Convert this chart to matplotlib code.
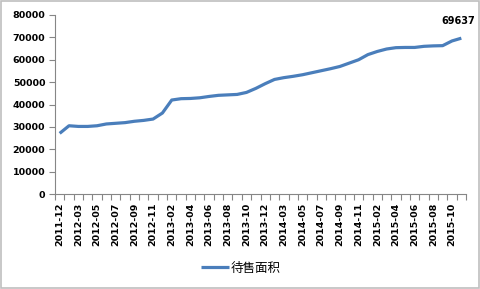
import numpy as np
import matplotlib.pyplot as plt
from matplotlib.patches import Rectangle

plt.rcParams['font.family'] = ['DejaVu Sans', 'Noto Sans CJK SC']

# -------- data --------
months = (["2011-12"]
          + ["2012-%02d" % m for m in range(2, 13)]
          + ["2013-%02d" % m for m in range(2, 13)]
          + ["2014-%02d" % m for m in range(2, 13)]
          + ["2015-%02d" % m for m in range(2, 12)])
area = [27100, 30500, 30200, 30200, 30500, 31300, 31600, 31900, 32500, 32900,
        33500, 36200, 42000, 42600, 42700, 43000, 43600, 44100, 44300, 44500,
        45400, 47200, 49300, 51200, 52000, 52600, 53300, 54200, 55100, 56000,
        57000, 58500, 60000, 62300, 63700, 64800, 65400, 65500, 65500, 66000,
        66200, 66300, 68400, 69637]
series_name = "待售面积"

line_color = "#4a7ebb"
axis_color = "#868686"

fig = plt.figure(figsize=(4.81, 2.89), dpi=100)
ax = fig.add_axes([55 / 481, 1 - 194 / 289, 411 / 481, 179 / 289])

x = np.arange(len(area))
ax.plot(x, area, color=line_color, linewidth=2.3, label=series_name,
        solid_capstyle='butt')

# label on last point
ax.annotate(f"{area[-1]}", (x[-1], area[-1]), xytext=(-2, 12.5),
            textcoords='offset points', ha='center', va='center',
            fontsize=7, fontweight='bold')

ax.set_xlim(-0.5, len(area) - 0.5)
ax.set_ylim(0, 80000)
ax.set_yticks(np.arange(0, 80001, 10000))

# category axis: labels every other month, ticks at boundaries
ax.set_xticks(x[::2])
ax.set_xticklabels(months[::2], rotation=90)
ax.set_xticks(np.arange(-0.5, len(area)), minor=True)
ax.tick_params(axis='x', which='major', length=0, pad=6)
ax.tick_params(axis='x', which='minor', length=4, color=axis_color, width=0.8)
ax.tick_params(axis='y', length=4, color=axis_color, width=0.8, pad=3)
for lab in ax.get_xticklabels() + ax.get_yticklabels():
    lab.set_fontsize(6.8)
    lab.set_fontweight('bold')

for s in ['top', 'right']:
    ax.spines[s].set_visible(False)
for s in ['left', 'bottom']:
    ax.spines[s].set_color(axis_color)
    ax.spines[s].set_linewidth(0.8)

leg = fig.legend(loc='center', bbox_to_anchor=(241 / 481, 1 - 268 / 289),
                 frameon=False, handlelength=2.25, handletextpad=0.15,
                 prop={'family': ['Noto Sans CJK SC', 'DejaVu Sans'], 'size': 9})

# outer chart border
fig.patches.append(Rectangle((0.002, 0.003), 0.994, 0.993,
                             transform=fig.transFigure, fill=False,
                             edgecolor='#bfbfbf', linewidth=1.2))

fig.savefig("out.png", dpi=100)
